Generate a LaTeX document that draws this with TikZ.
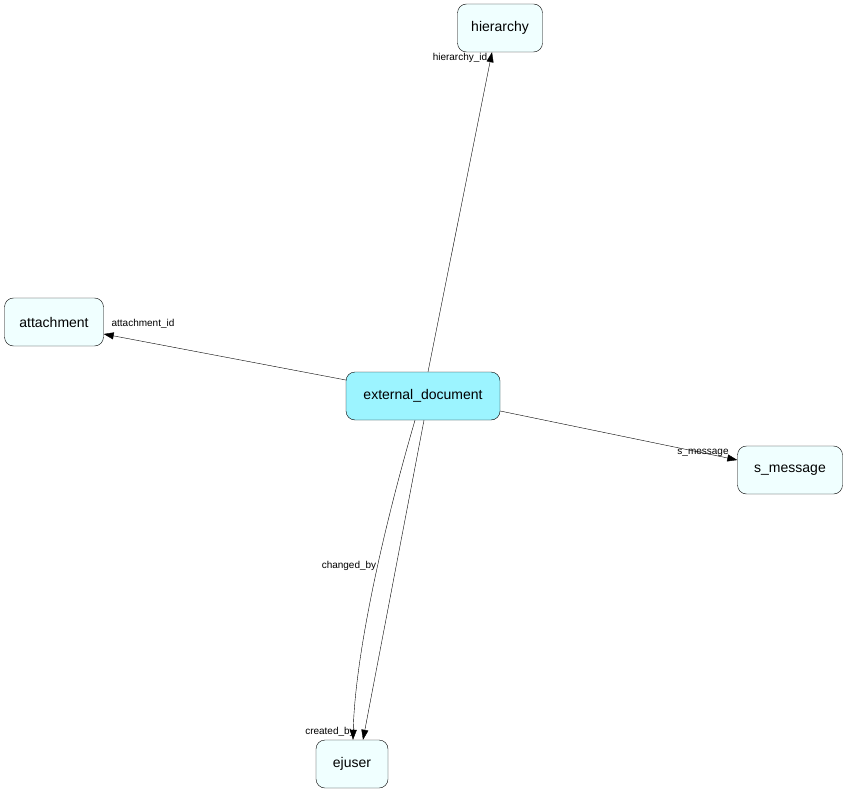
\documentclass[tikz,border=0pt]{standalone}
\usepackage{fontspec}
\setmainfont{Liberation Sans}
\usetikzlibrary{arrows.meta}
\definecolor{mainfill}{HTML}{9CF4FF}
\definecolor{tablefill}{HTML}{F0FFFF}
\tikzset{
    table/.style={draw, rounded corners=9pt, fill=tablefill, minimum height=48pt, inner sep=0pt, font=\fontsize{14}{16}\selectfont},
    fklabel/.style={font=\fontsize{10}{12}\selectfont, inner sep=1pt},
    fk/.style={-{Triangle[length=10pt,width=7pt]}}
}
\begin{document}
\begin{tikzpicture}[x=1pt,y=-1pt]
    \useasboundingbox (0,0) rectangle (848,794);
    \node[table, minimum width=85pt] (hierarchy) at (500,28) {hierarchy};
    \node[table, minimum width=99pt] (attachment) at (54,322) {attachment};
    \node[table, minimum width=154pt, fill=mainfill] (extdoc) at (423,396) {external\_document};
    \node[table, minimum width=105pt] (smessage) at (790,470) {s\_message};
    \node[table, minimum width=72pt] (ejuser) at (352,764) {ejuser};
    \draw[fk] (extdoc.north) ++(5,0) -- ([xshift=-8pt]hierarchy.south);
    \draw[fk] (extdoc.west) ++(0,-16) -- ([yshift=-12pt]attachment.east);
    \draw[fk] (extdoc.east) ++(0,15) -- ([yshift=10pt]smessage.west);
    \draw[fk] (extdoc.south) ++(-8,0) .. controls (380,540) and (355,660) .. ([xshift=1pt]ejuser.north);
    \draw[fk] (extdoc.south) ++(1,0) -- ([xshift=11pt]ejuser.north);
    \node[fklabel] (lhier) at (460,58) {hierarchy\_id};
    \node[fklabel] (latt) at (143,324) {attachment\_id};
    \node[fklabel] (lsmsg) at (703,453) {s\_message};
    \node[fklabel] (lchg) at (349,566) {changed\_by};
    \node[fklabel] (lcrt) at (330,732) {created\_by};
\end{tikzpicture}
\end{document}
